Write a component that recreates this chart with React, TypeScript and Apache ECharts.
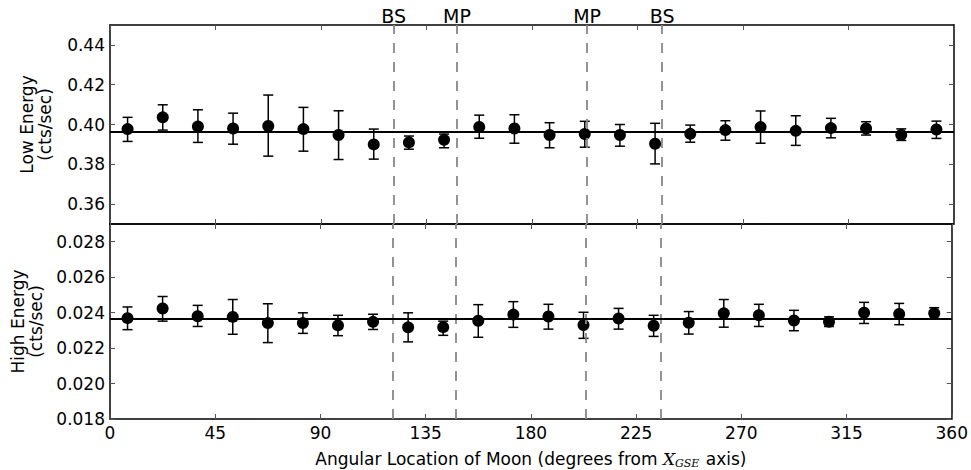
import React, { useEffect, useRef } from "react";
import * as echarts from "echarts";

const angles = [7.5, 22.5, 37.5, 52.5, 67.5, 82.5, 97.5, 112.5, 127.5, 142.5, 157.5, 172.5, 187.5, 202.5, 217.5, 232.5, 247.5, 262.5, 277.5, 292.5, 307.5, 322.5, 337.5, 352.5];

const lowVals = [0.3977, 0.4036, 0.399, 0.398, 0.3993, 0.3977, 0.3947, 0.39, 0.391, 0.3923, 0.3988, 0.398, 0.3947, 0.3952, 0.3947, 0.3903, 0.3953, 0.3972, 0.3987, 0.3968, 0.3982, 0.398, 0.3948, 0.3975];
const lowUpper = [0.4036, 0.4099, 0.4074, 0.4057, 0.4148, 0.4086, 0.4069, 0.3977, 0.3942, 0.3952, 0.4047, 0.4049, 0.4009, 0.4016, 0.4, 0.4006, 0.3997, 0.4019, 0.4068, 0.4044, 0.4031, 0.4014, 0.3978, 0.4017];
const lowLower = [0.3915, 0.3972, 0.391, 0.3901, 0.3841, 0.3866, 0.3824, 0.3826, 0.3876, 0.3883, 0.3931, 0.3906, 0.3883, 0.3886, 0.3891, 0.3802, 0.3911, 0.3921, 0.3906, 0.3895, 0.3933, 0.3947, 0.392, 0.393];
const lowMean = 0.3963;

const highVals = [0.02369, 0.02423, 0.0238, 0.02376, 0.02341, 0.02341, 0.02328, 0.02348, 0.02317, 0.02318, 0.02354, 0.02389, 0.02378, 0.0233, 0.02367, 0.02326, 0.02343, 0.02396, 0.02385, 0.02356, 0.02348, 0.02399, 0.02393, 0.02396];
const highUpper = [0.02432, 0.02491, 0.02441, 0.02474, 0.0245, 0.02399, 0.02385, 0.02391, 0.02399, 0.02352, 0.02445, 0.02462, 0.02447, 0.02402, 0.02424, 0.02385, 0.02406, 0.02474, 0.02447, 0.02413, 0.02376, 0.02458, 0.02452, 0.02428];
const highLower = [0.02304, 0.02352, 0.02322, 0.02278, 0.02231, 0.02283, 0.0227, 0.02305, 0.02235, 0.02272, 0.02261, 0.02317, 0.02307, 0.02255, 0.02307, 0.02266, 0.02279, 0.02318, 0.02322, 0.02298, 0.02322, 0.02339, 0.02332, 0.02367];
const highMean = 0.02363;

const boundaryAngles = [121, 148, 203.5, 235.5];
const boundaryLabels = ["BS", "MP", "MP", "BS"];

const xTicks = [0, 45, 90, 135, 180, 225, 270, 315, 360];
const lowTicks = [0.36, 0.38, 0.4, 0.42, 0.44];
const highTicks = [0.018, 0.02, 0.022, 0.024, 0.026, 0.028];

const FONT = "DejaVu Sans";
const TICK_COLOR = "#555";
const FS = 17;

function errorBarRender(params: any, api: any) {
  const x = api.value(0);
  const lo = api.coord([x, api.value(1)]);
  const hi = api.coord([x, api.value(2)]);
  const w = 5;
  const style = { stroke: "#000", lineWidth: 1.5 };
  return {
    type: "group",
    children: [
      { type: "line", shape: { x1: lo[0], y1: lo[1], x2: hi[0], y2: hi[1] }, style },
      { type: "line", shape: { x1: lo[0] - w, y1: lo[1], x2: lo[0] + w, y2: lo[1] }, style },
      { type: "line", shape: { x1: hi[0] - w, y1: hi[1], x2: hi[0] + w, y2: hi[1] }, style },
    ],
  };
}

function xAxis(gridIndex: number, position: string, showLabel: boolean, extra: any = {}) {
  return {
    type: "value",
    gridIndex,
    position,
    min: 0,
    max: 360,
    interval: 45,
    splitLine: { show: false },
    axisLine: { show: true, onZero: false, lineStyle: { color: "#000", width: 1.5 } },
    axisTick: { show: true, inside: true, length: 5, customValues: xTicks, lineStyle: { color: TICK_COLOR, width: 1 } },
    axisLabel: {
      show: showLabel,
      customValues: xTicks,
      color: "#000",
      fontFamily: FONT,
      fontSize: FS,
      margin: 5,
    },
    ...extra,
  };
}

function yAxis(gridIndex: number, position: string, showLabel: boolean, min: number, max: number, ticks: number[], digits: number, extra: any = {}) {
  return {
    type: "value",
    gridIndex,
    position,
    min,
    max,
    splitLine: { show: false },
    axisLine: { show: true, onZero: false, lineStyle: { color: "#000", width: 1.5 } },
    axisTick: { show: true, inside: true, length: 5, customValues: ticks, lineStyle: { color: TICK_COLOR, width: 1 } },
    axisLabel: {
      show: showLabel,
      customValues: ticks,
      color: "#000",
      fontFamily: FONT,
      fontSize: FS,
      margin: 5,
      formatter: (v: number) => v.toFixed(digits),
    },
    ...extra,
  };
}

export default function App() {
  const ref = useRef<HTMLDivElement>(null);
  useEffect(() => {
    if (!ref.current) return;
    const chart = echarts.init(ref.current, null, { renderer: "svg" });

    const lowPoints = angles.map((a, i) => [a, lowVals[i]]);
    const lowBars = angles.map((a, i) => [a, lowLower[i], lowUpper[i]]);
    const highPoints = angles.map((a, i) => [a, highVals[i]]);
    const highBars = angles.map((a, i) => [a, highLower[i], highUpper[i]]);

    const dashStyle = { color: "#888888", width: 1.8, type: [10, 9] };

    const topMarks = boundaryAngles.map((a, i) => ({
      xAxis: a,
      lineStyle: dashStyle,
      label: {
        show: true,
        position: "end",
        formatter: boundaryLabels[i],
        color: "#000",
        fontFamily: FONT,
        fontSize: 19,
        distance: 0,
      },
    }));
    const bottomMarks = boundaryAngles.map((a) => ({ xAxis: a, lineStyle: dashStyle, label: { show: false } }));

    chart.setOption({
      animation: false,
      backgroundColor: "#fff",
      textStyle: { fontFamily: FONT },
      grid: [
        { left: 110, right: 17, top: 25, height: 199 },
        { left: 110, right: 17, top: 224, height: 198 },
      ],
      xAxis: [
        xAxis(0, "bottom", false),
        xAxis(0, "top", false),
        xAxis(1, "bottom", true, {
          name: "Angular Location of Moon (degrees from {i|X}{s|GSE} axis)",
          nameLocation: "middle",
          nameGap: 30,
          nameTextStyle: {
            color: "#000",
            fontFamily: FONT,
            fontSize: FS,
            rich: {
              i: { fontFamily: "DejaVu Serif", fontStyle: "italic", fontSize: FS, color: "#000" },
              s: { fontFamily: "DejaVu Serif", fontStyle: "italic", fontSize: 11, color: "#000", padding: [9, 1, 0, 0] },
            },
          },
        }),
        xAxis(1, "top", false),
      ],
      yAxis: [
        yAxis(0, "left", true, 0.35, 0.45, lowTicks, 2, {
          name: "Low Energy\n(cts/sec)",
          nameLocation: "middle",
          nameGap: 56,
          nameTextStyle: { color: "#000", fontFamily: FONT, fontSize: FS, lineHeight: 18 },
        }),
        yAxis(0, "right", false, 0.35, 0.45, lowTicks, 2),
        yAxis(1, "left", true, 0.018, 0.029, highTicks, 3, {
          name: "High Energy\n(cts/sec)",
          nameLocation: "middle",
          nameGap: 61,
          nameTextStyle: { color: "#000", fontFamily: FONT, fontSize: FS, lineHeight: 18 },
        }),
        yAxis(1, "right", false, 0.018, 0.029, highTicks, 3),
      ],
      series: [
        {
          type: "line",
          xAxisIndex: 0,
          yAxisIndex: 0,
          data: [],
          silent: true,
          markLine: {
            silent: true,
            precision: 8,
            symbol: ["none", "none"],
            data: [...topMarks, { yAxis: lowMean, lineStyle: { color: "#000", width: 1.8, type: "solid" }, label: { show: false } }],
          },
        },
        {
          type: "custom",
          xAxisIndex: 0,
          yAxisIndex: 0,
          renderItem: errorBarRender,
          encode: { x: 0, y: [1, 2] },
          data: lowBars,
          z: 3,
        },
        {
          type: "scatter",
          xAxisIndex: 0,
          yAxisIndex: 0,
          symbol: "circle",
          symbolSize: 12,
          itemStyle: { color: "#000", opacity: 1 },
          data: lowPoints,
          z: 4,
        },
        {
          type: "line",
          xAxisIndex: 2,
          yAxisIndex: 2,
          data: [],
          silent: true,
          markLine: {
            silent: true,
            precision: 8,
            symbol: ["none", "none"],
            data: [...bottomMarks, { yAxis: highMean, lineStyle: { color: "#000", width: 1.8, type: "solid" }, label: { show: false } }],
          },
        },
        {
          type: "custom",
          xAxisIndex: 2,
          yAxisIndex: 2,
          renderItem: errorBarRender,
          encode: { x: 0, y: [1, 2] },
          data: highBars,
          z: 3,
        },
        {
          type: "scatter",
          xAxisIndex: 2,
          yAxisIndex: 2,
          symbol: "circle",
          symbolSize: 12,
          itemStyle: { color: "#000", opacity: 1 },
          data: highPoints,
          z: 4,
        },
      ],
    });
    return () => chart.dispose();
  }, []);

  return (
    <div
      ref={ref}
      style={{ position: "fixed", left: 0, top: 0, width: 971, height: 470, background: "#fff" }}
    />
  );
}
